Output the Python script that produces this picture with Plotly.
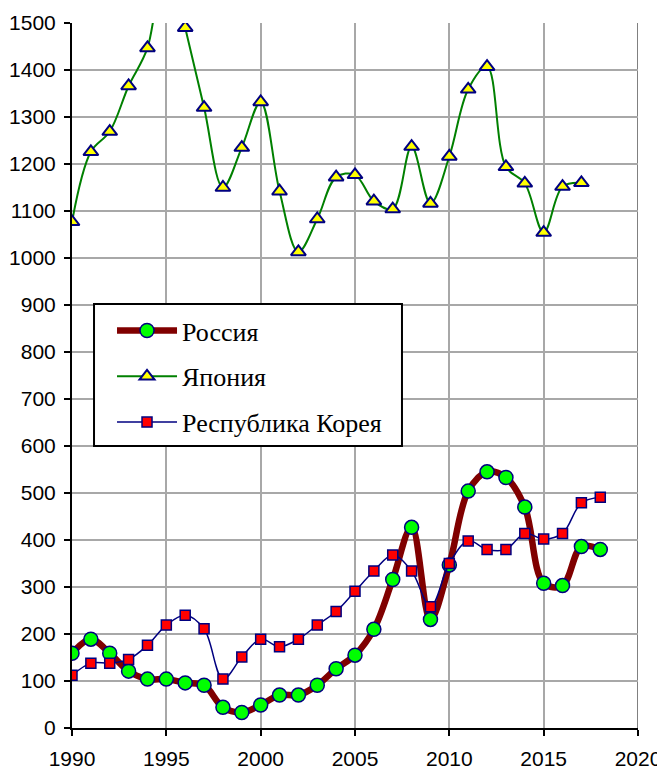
import plotly.graph_objects as go

years = list(range(1990, 2019))
russia = [159, 189, 159, 121, 104, 104, 96, 91, 44, 33, 49, 70, 70, 91, 126,
          155, 210, 316, 427, 231, 347, 504, 545, 533, 470, 308, 303, 386, 380]
japan = [1077, 1226, 1269, 1366, 1447, 1650, 1490, 1320, 1150, 1235, 1332, 1142, 1013, 1083, 1172,
         1177, 1121, 1104, 1237, 1116, 1216, 1359, 1407, 1194, 1159, 1054, 1152, 1160, None]
korea = [112, 138, 138, 146, 176, 219, 240, 211, 104, 151, 189, 173, 189, 219, 248,
         291, 334, 368, 334, 258, 350, 398, 380, 380, 414, 402, 414, 479, 491]

fig = go.Figure()
fig.add_trace(go.Scatter(
    x=years, y=russia, name="Россия", mode="lines+markers", legendgroup="a",
    line=dict(color="#800000", width=6.5, shape="spline", smoothing=1.0),
    marker=dict(symbol="circle", size=14, color="#00ff00", line=dict(color="#000080", width=1.5)),
))
fig.add_trace(go.Scatter(
    x=years, y=japan, name="Япония", mode="lines+markers", legendgroup="b",
    line=dict(color="#008000", width=2, shape="spline", smoothing=1.0),
    marker=dict(symbol="triangle-up", size=13, color="#ffff00", line=dict(color="#000080", width=2)),
))
fig.add_trace(go.Scatter(
    x=years, y=korea, name="Республика Корея", mode="lines+markers", legendgroup="c",
    line=dict(color="#000080", width=1.5, shape="spline", smoothing=1.0),
    marker=dict(symbol="square", size=10, color="#ff0000", line=dict(color="#000080", width=1.5)),
))

fig.update_layout(
    width=657, height=761,
    margin=dict(l=64, r=27, t=15, b=41, autoexpand=False),
    paper_bgcolor="white", plot_bgcolor="white",
    font=dict(family="Liberation Sans, Arial", size=21, color="black"),
    showlegend=True,
    legend=dict(
        x=0.0707, y=0.597, xanchor="left", yanchor="top",
        bgcolor="rgba(0,0,0,0)", borderwidth=0,
        font=dict(family="Liberation Serif, Times New Roman", size=26, color="black"),
        itemwidth=60, tracegroupgap=9, traceorder="grouped",
    ),
    xaxis=dict(
        range=[1990, 2020], tickmode="linear", tick0=1990, dtick=5,
        showgrid=True, gridcolor="#a8a8a8", gridwidth=1.5,
        showline=True, linecolor="black", linewidth=2, mirror=False,
        ticks="outside", ticklen=6, tickcolor="black", tickwidth=1.5,
        ticklabelstandoff=5,
        zeroline=False, fixedrange=True, automargin=False,
    ),
    yaxis=dict(
        range=[0, 1500], tickmode="linear", tick0=0, dtick=100,
        showgrid=True, gridcolor="#a8a8a8", gridwidth=1.5,
        showline=True, linecolor="black", linewidth=2,
        ticks="outside", ticklen=6, tickcolor="black", tickwidth=1.5,
        ticklabelstandoff=4,
        zeroline=False, fixedrange=True, automargin=False,
    ),
)
# right frame line at 2020
fig.add_shape(type="line", xref="x", yref="paper", x0=2020, x1=2020, y0=0, y1=1,
              line=dict(color="#808080", width=2), layer="below")
# legend box
fig.add_shape(type="rect", xref="paper", yref="paper", x0=0.0389, x1=0.583, y0=0.400, y1=0.6014,
              line=dict(color="black", width=2), fillcolor="white", layer="above")

fig.write_html("out.html")
